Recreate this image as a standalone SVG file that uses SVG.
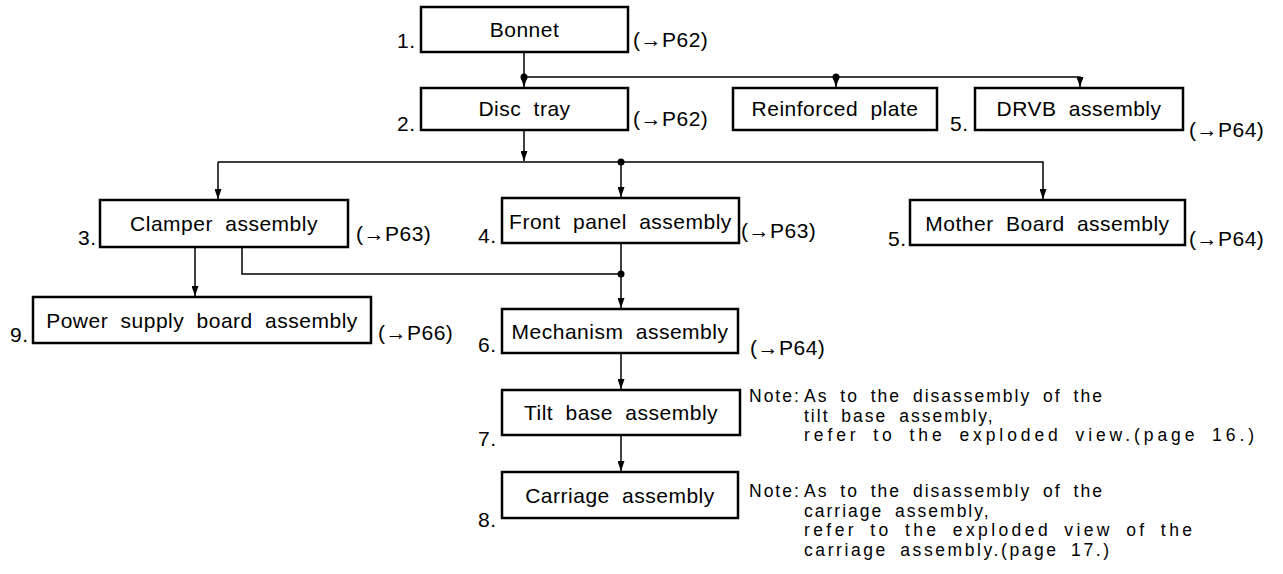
<svg xmlns="http://www.w3.org/2000/svg" width="1283" height="574" viewBox="0 0 1283 574">
<style>
text{font-family:"Liberation Sans",Arial,sans-serif;font-size:21px;letter-spacing:0.5px;word-spacing:6px;fill:#000}
.lbl{text-anchor:middle}
.note{font-size:17.5px;letter-spacing:2px;word-spacing:5px}
.box{fill:#fff;stroke:#000;stroke-width:2.5}
.ln{fill:none;stroke:#000;stroke-width:1.5}
.dot{fill:#000}
</style>
<defs>
<marker id="ah" markerUnits="userSpaceOnUse" markerWidth="11" markerHeight="7" refX="10" refY="3.5" orient="auto" viewBox="0 0 10 7">
<path d="M0,0 L10,3.5 L0,7 z" fill="#000"/>
</marker>
</defs>
<g id="connectors">
<path class="ln" d="M524,52 V87" marker-end="url(#ah)"/>
<path class="ln" d="M524,77 H1080 V87" marker-end="url(#ah)"/>
<path class="ln" d="M836,77 V87" marker-end="url(#ah)"/>
<circle class="dot" cx="524" cy="77" r="3.5"/>
<circle class="dot" cx="836" cy="77" r="3.5"/>
<path class="ln" d="M524,130 V161" marker-end="url(#ah)"/>
<path class="ln" d="M218,162 H1043 V199" marker-end="url(#ah)"/>
<path class="ln" d="M218,162 V199" marker-end="url(#ah)"/>
<path class="ln" d="M621,162 V197" marker-end="url(#ah)"/>
<circle class="dot" cx="621" cy="162" r="3.5"/>
<path class="ln" d="M195,247 V296" marker-end="url(#ah)"/>
<path class="ln" d="M242,247 V274 H621"/>
<path class="ln" d="M621,243 V308" marker-end="url(#ah)"/>
<circle class="dot" cx="621" cy="274" r="3.5"/>
<path class="ln" d="M621,353 V389" marker-end="url(#ah)"/>
<path class="ln" d="M621,435 V471" marker-end="url(#ah)"/>
</g>
<g id="n1">
<rect class="box" x="421" y="7" width="207" height="45"/>
<text class="lbl" x="524.5" y="37">Bonnet</text>
<text x="397" y="48">1.</text>
<text x="633" y="47">(→P62)</text>
</g>
<g id="n2">
<rect class="box" x="421" y="88" width="207" height="42"/>
<text class="lbl" x="524.5" y="116">Disc tray</text>
<text x="397" y="131">2.</text>
<text x="633" y="126">(→P62)</text>
</g>
<g id="n_reinf">
<rect class="box" x="733" y="88" width="204" height="42"/>
<text class="lbl" x="835" y="116">Reinforced plate</text>
</g>
<g id="n5a">
<rect class="box" x="975" y="88" width="208" height="42"/>
<text class="lbl" x="1079" y="116">DRVB assembly</text>
<text x="950" y="131">5.</text>
<text x="1189" y="137">(→P64)</text>
</g>
<g id="n3">
<rect class="box" x="100" y="200" width="248" height="47"/>
<text class="lbl" x="224" y="231">Clamper assembly</text>
<text x="78" y="245">3.</text>
<text x="356" y="241">(→P63)</text>
</g>
<g id="n4">
<rect class="box" x="502" y="198" width="237" height="45"/>
<text class="lbl" x="620.5" y="229">Front panel assembly</text>
<text x="478" y="243">4.</text>
<text x="741" y="238">(→P63)</text>
</g>
<g id="n5b">
<rect class="box" x="910" y="200" width="275" height="45"/>
<text class="lbl" x="1047.5" y="231">Mother Board assembly</text>
<text x="888" y="246">5.</text>
<text x="1189" y="246">(→P64)</text>
</g>
<g id="n9">
<rect class="box" x="33" y="297" width="338" height="46"/>
<text class="lbl" x="202" y="328">Power supply board assembly</text>
<text x="10" y="342">9.</text>
<text x="378" y="340">(→P66)</text>
</g>
<g id="n6">
<rect class="box" x="502" y="309" width="236" height="44"/>
<text class="lbl" x="620" y="339">Mechanism assembly</text>
<text x="478" y="352">6.</text>
<text x="750" y="355">(→P64)</text>
</g>
<g id="n7">
<rect class="box" x="502" y="390" width="238" height="45"/>
<text class="lbl" x="621" y="420">Tilt base assembly</text>
<text x="478" y="446">7.</text>
</g>
<g id="n8">
<rect class="box" x="502" y="472" width="236" height="46"/>
<text class="lbl" x="620" y="503">Carriage assembly</text>
<text x="478" y="527">8.</text>
</g>
<g id="note1">
<text class="note" x="749" y="402">Note:</text>
<text class="note" x="804" y="402">As to the disassembly of the</text>
<text class="note" x="804" y="421.5">tilt base assembly,</text>
<text class="note" x="804" y="441" textLength="452" lengthAdjust="spacing">refer to the exploded view.(page 16.)</text>
</g>
<g id="note2">
<text class="note" x="749" y="497">Note:</text>
<text class="note" x="804" y="497">As to the disassembly of the</text>
<text class="note" x="804" y="516.5">carriage assembly,</text>
<text class="note" x="804" y="536" textLength="390" lengthAdjust="spacing">refer to the exploded view of the</text>
<text class="note" x="804" y="555.5" textLength="307" lengthAdjust="spacing">carriage assembly.(page 17.)</text>
</g>
</svg>
